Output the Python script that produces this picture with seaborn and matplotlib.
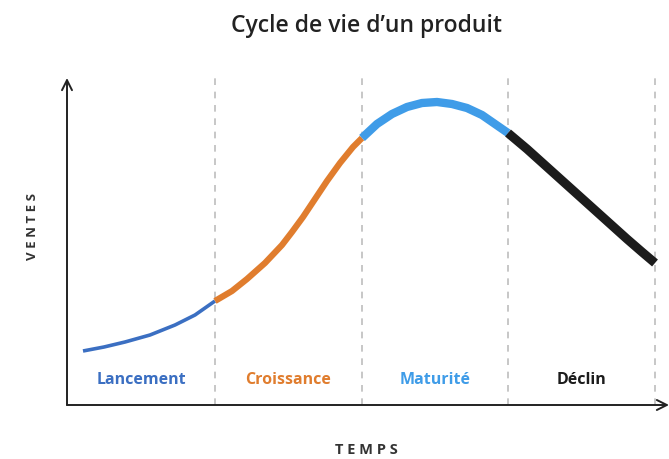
import pandas as pd
import numpy as np
import seaborn as sns
import matplotlib.pyplot as plt

# phases of the product life cycle
phases = ['Lancement', 'Croissance', 'Maturité', 'Déclin']
colors = ['#3b6fc2', '#e07d2e', '#3f9ce8', '#1c1c1c']
widths = [2.6, 4.5, 6.0, 6.5]
bounds = [148, 295, 441, 588]

# time / sales points, per phase
t_lancement = [16, 37, 58, 83, 108, 128, 148]
s_lancement = [54, 58, 63, 70, 80, 90, 104]
t_croissance = [148, 165, 180, 198, 215, 225, 236, 248, 260, 273, 286, 295]
s_croissance = [104, 114, 126, 142, 160, 173, 188, 206, 224, 242, 258, 267]
t_maturite = [295, 310, 325, 340, 355, 370, 385, 400, 415, 428, 441]
s_maturite = [267, 281, 291, 298, 302, 303, 301, 297, 290, 281, 272]
t_declin = [441, 460, 480, 500, 520, 540, 560, 575, 588]
s_declin = [272, 256, 238, 220, 202, 184, 166, 153, 142]

t_all = [t_lancement, t_croissance, t_maturite, t_declin]
s_all = [s_lancement, s_croissance, s_maturite, s_declin]

df = pd.concat([pd.DataFrame({'temps': t, 'ventes': s, 'phase': p})
                for t, s, p in zip(t_all, s_all, phases)], ignore_index=True)

sns.set_style('white')
plt.rcParams['font.family'] = ['Open Sans', 'DejaVu Sans']

fig = plt.figure(figsize=(6.69, 4.59), dpi=100)
ax = fig.add_axes([67/669, 54/459, 602/669, 327/459])

for p, c, w in zip(phases, colors, widths):
    sns.lineplot(data=df[df['phase'] == p], x='temps', y='ventes', color=c,
                 linewidth=w, sort=False, ax=ax, solid_capstyle='butt',
                 solid_joinstyle='round')

for b in bounds:
    ax.axvline(b, color='#bdbdbd', linestyle=(0, (4, 4)), linewidth=1.2, zorder=0)

# phase labels
starts = [0] + bounds[:-1]
for p, c, a, b in zip(phases, colors, starts, bounds):
    ax.text((a + b) / 2, 25, p, color=c, ha='center', va='center',
            fontsize=11.5, fontweight='bold')

ax.set_xlim(0, 602)
ax.set_ylim(0, 327)
ax.set_xticks([])
ax.set_yticks([])
ax.set_xlabel('')
ax.set_ylabel('')
for sp in ax.spines.values():
    sp.set_visible(False)

# axes with arrows
ax.annotate('', xy=(0, 1.0), xytext=(0, 0), xycoords='axes fraction',
            arrowprops=dict(arrowstyle='->', color='#222222', lw=1.4,
                            mutation_scale=18, shrinkA=0, shrinkB=0))
ax.annotate('', xy=(1.0, 0), xytext=(0, 0), xycoords='axes fraction',
            arrowprops=dict(arrowstyle='->', color='#222222', lw=1.4,
                            mutation_scale=18, shrinkA=0, shrinkB=0))

fig.text(366/669, 1 - 26/459, 'Cycle de vie d\u2019un produit', ha='center',
         va='center', fontsize=16.5, fontweight='semibold', color='#222222')
fig.text(33/669, 1 - 226/459, 'V E N T E S', rotation=90, ha='center',
         va='center', fontsize=9.5, fontweight='bold', color='#333333')
fig.text(366/669, 1 - 450/459, 'T E M P S', ha='center', va='center',
         fontsize=10.5, fontweight='bold', color='#333333')

fig.savefig('out.png', dpi=100)
